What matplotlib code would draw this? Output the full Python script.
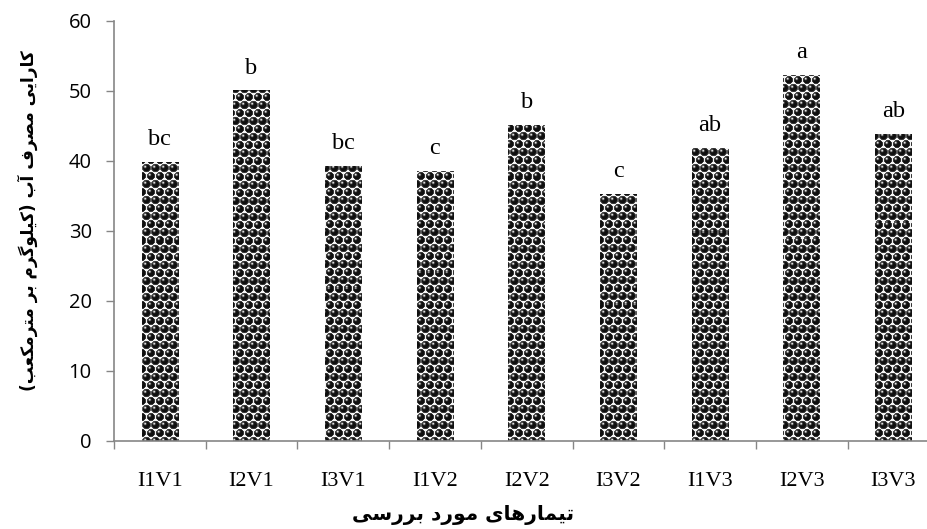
import numpy as np
import matplotlib
matplotlib.use("Agg")
import matplotlib.pyplot as plt
from matplotlib.ticker import FixedLocator, NullFormatter

# ---- data ----
categories = ["I1V1", "I2V1", "I3V1", "I1V2", "I2V2", "I3V2", "I1V3", "I2V3", "I3V3"]
values = [39.9, 50.1, 39.3, 38.6, 45.2, 35.3, 41.9, 52.3, 43.9]
letters = ["bc", "b", "bc", "c", "b", "c", "ab", "a", "ab"]
yticks = [0, 10, 20, 30, 40, 50, 60]
ylabel_text = "کارایی مصرف آب (کیلوگرم بر مترمکعب)"
xlabel_text = "تیمارهای مورد بررسی"

# ---- minimal Persian shaping (matplotlib has no complex text layout) ----
FORMS = {
    'ا': ('\uFE8D', '\uFE8E', None, None),
    'آ': ('\uFE81', '\uFE82', None, None),
    'ب': ('\uFE8F', '\uFE90', '\uFE91', '\uFE92'),
    'ت': ('\uFE95', '\uFE96', '\uFE97', '\uFE98'),
    'د': ('\uFEA9', '\uFEAA', None, None),
    'ر': ('\uFEAD', '\uFEAE', None, None),
    'س': ('\uFEB1', '\uFEB2', '\uFEB3', '\uFEB4'),
    'ص': ('\uFEB9', '\uFEBA', '\uFEBB', '\uFEBC'),
    'ع': ('\uFEC9', '\uFECA', '\uFECB', '\uFECC'),
    'ف': ('\uFED1', '\uFED2', '\uFED3', '\uFED4'),
    'ل': ('\uFEDD', '\uFEDE', '\uFEDF', '\uFEE0'),
    'م': ('\uFEE1', '\uFEE2', '\uFEE3', '\uFEE4'),
    'ه': ('\uFEE9', '\uFEEA', '\uFEEB', '\uFEEC'),
    'و': ('\uFEED', '\uFEEE', None, None),
    'ک': ('\uFB8E', '\uFB8F', '\uFB90', '\uFB91'),
    'گ': ('\uFB92', '\uFB93', '\uFB94', '\uFB95'),
    'ی': ('\uFBFC', '\uFBFD', '\uFBFE', '\uFBFF'),
}
DUAL = {c for c, f in FORMS.items() if f[2] is not None}


def shape(s):
    out = []
    n = len(s)
    for i, ch in enumerate(s):
        if ch not in FORMS:
            out.append(ch)
            continue
        prev = s[i - 1] if i > 0 else ''
        nxt = s[i + 1] if i < n - 1 else ''
        jp = prev in DUAL
        jn = (ch in DUAL) and (nxt in FORMS)
        iso, fin, ini, med = FORMS[ch]
        if jp and jn:
            out.append(med)
        elif jp:
            out.append(fin)
        elif jn:
            out.append(ini)
        else:
            out.append(iso)
    vis = ''.join(out)[::-1]
    return vis.translate(str.maketrans('()', ')('))


# ---- figure ----
W, H, DPI = 927, 529, 100
fig = plt.figure(figsize=(W / DPI, H / DPI), dpi=DPI)
ax_l, ax_b = 114 / W, (H - 441) / H
ax_w, ax_h = 9 * 91.7 / W, 420 / H
ax = fig.add_axes([ax_l, ax_b, ax_w, ax_h])

x = np.arange(len(categories))
bars = ax.bar(x, values, width=0.4, facecolor='none', edgecolor='none', zorder=2)
xlim = (-0.5, len(categories) - 0.5)
ylim = (0, 60)

# sphere texture (pattern fill like the original), one pixel per figure pixel
pw, ph = int(round(ax_w * W)), int(round(ax_h * H))
px, py = 9.0, 8.0
yy, xx = np.mgrid[0:ph, 0:pw].astype(float)
yy += 0.5
xx += 0.5


def dist(cx, cy):
    du = ((xx - cx) % px)
    du = np.minimum(du, px - du)
    dv = ((yy - cy) % (2 * py))
    dv = np.minimum(dv, 2 * py - dv)
    return du, dv


duA, dvA = dist(px / 2, py / 2)
duB, dvB = dist(0.0, 1.5 * py)
rA = np.hypot(duA, dvA)
rB = np.hypot(duB, dvB)
# signed offsets for highlight (need direction): recompute signed
def signed(cx, cy):
    su = ((xx - cx + px / 2) % px) - px / 2
    sv = ((yy - cy + py) % (2 * py)) - py
    return su, sv


suA, svA = signed(px / 2, py / 2)
suB, svB = signed(0.0, 1.5 * py)
useA = rA <= rB
su = np.where(useA, suA, suB)
sv = np.where(useA, svA, svB)
r = np.hypot(su, sv)
R = 4.3
inside = r <= R
hl = np.exp(-((su + 1.3) ** 2 + (sv + 1.3) ** 2) / 1.3)
rim = np.clip((r - (R - 1.3)) / 1.3, 0, 1)
val = np.where(inside, 0.06 + 0.9 * hl + 0.35 * rim, 0.96)
val = np.clip(val, 0, 1)
tex = np.dstack([val, val, val])
for b in bars:
    im = ax.imshow(tex, extent=(xlim[0], xlim[1], ylim[0], ylim[1]), origin='upper',
                   aspect='auto', interpolation='nearest', zorder=2)
    im.set_clip_path(b)
ax.set_xlim(*xlim)
ax.set_ylim(*ylim)
ax.set_aspect('auto')

# spines / ticks
for s in ('top', 'right'):
    ax.spines[s].set_visible(False)
for s in ('left', 'bottom'):
    ax.spines[s].set_color('#868686')
    ax.spines[s].set_linewidth(1.2)

ax.set_yticks(yticks)
ax.set_yticklabels([str(t) for t in yticks], fontfamily='Open Sans', fontsize=14.5)
ax.tick_params(axis='y', direction='out', length=6, color='#868686', width=1, pad=10)

ax.set_xticks(x)
ax.set_xticklabels(categories, fontfamily='Liberation Serif', fontsize=16)
ax.tick_params(axis='x', which='major', length=0, pad=22)
ax.xaxis.set_minor_locator(FixedLocator(np.arange(-0.5, len(categories), 1.0)))
ax.xaxis.set_minor_formatter(NullFormatter())
ax.tick_params(axis='x', which='minor', direction='out', length=6, color='#868686', width=1)

# letters above bars
for xi, v_, lab in zip(x, values, letters):
    ax.annotate(lab, (xi, v_), xytext=(0, 12), textcoords='offset points',
                ha='center', va='baseline', fontfamily='Liberation Serif', fontsize=17.5)

# axis labels
fig.text(28 / W, 1 - 221 / H, shape(ylabel_text), rotation=90, ha='center', va='center',
         fontfamily=['DejaVu Sans'], fontweight='bold', fontsize=12.2)
fig.text(0.5, 1 - 515 / H, shape(xlabel_text), ha='center', va='center',
         fontfamily=['DejaVu Sans'], fontweight='bold', fontsize=14.5)

fig.savefig('out.png', dpi=DPI)
